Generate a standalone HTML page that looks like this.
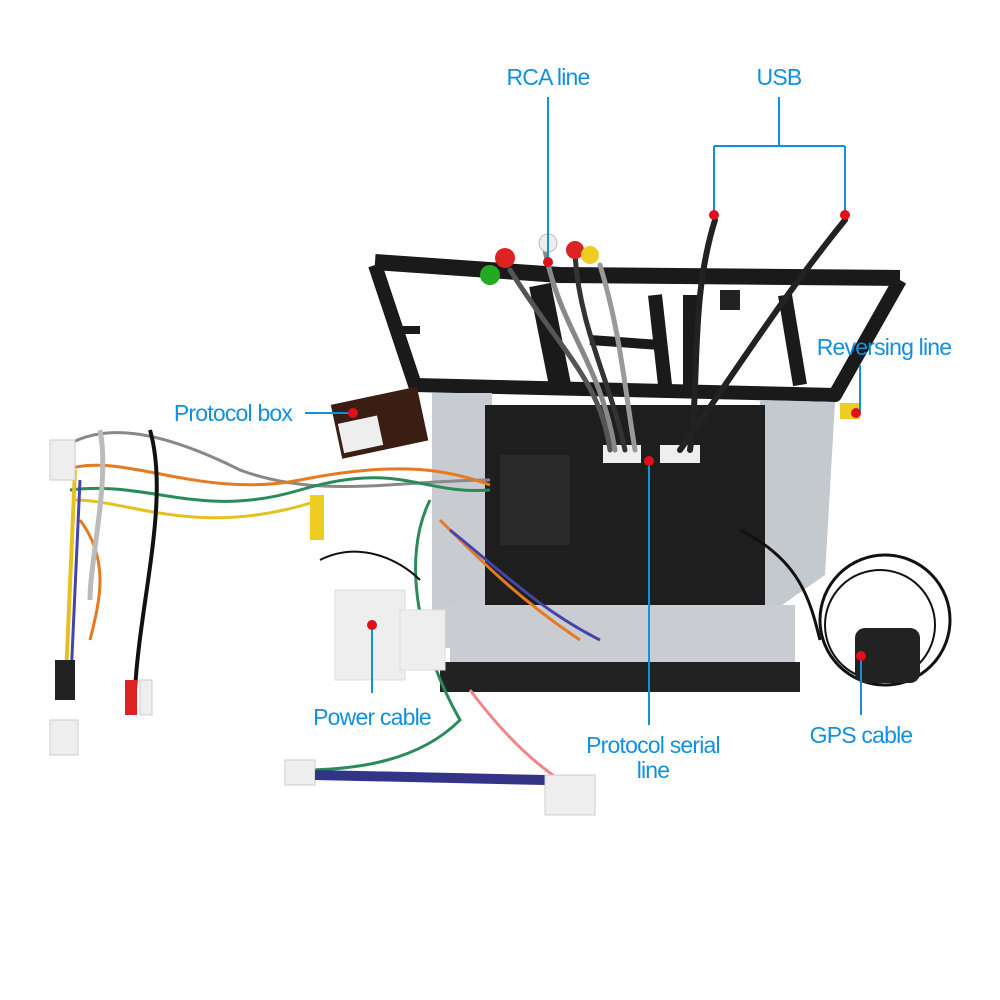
<!DOCTYPE html>
<html><head><meta charset="utf-8"><style>
html,body{margin:0;padding:0;background:#fff;width:1000px;height:1000px;overflow:hidden}
svg{display:block}
text{font-family:"Liberation Sans",sans-serif;fill:#1190e0;font-size:23px;letter-spacing:-0.8px}
</style></head><body>
<svg width="1000" height="1000" viewBox="0 0 1000 1000">
<rect width="1000" height="1000" fill="#fff"/>
<!-- frame (bars) -->
<g fill="none" stroke="#1a1a1a" stroke-linejoin="round">
<path d="M375,265 L415,385 L835,395 L900,280" stroke-width="14"/>
<path d="M375,262 L560,275 L900,278" stroke-width="16"/>
<path d="M540,285 L560,385" stroke-width="22"/>
<path d="M655,295 L665,385" stroke-width="14"/>
<path d="M690,295 L690,385" stroke-width="14"/>
<path d="M785,295 L800,385" stroke-width="14"/>
<path d="M395,330 L420,330" stroke-width="8"/>
<path d="M590,340 L660,345" stroke-width="10"/>
</g>
<!-- chassis -->
<rect x="432" y="393" width="60" height="255" fill="#c8ccd0"/>
<path d="M760,400 L835,402 L825,575 L775,610 L760,610 Z" fill="#c4c9ce"/>
<rect x="485" y="405" width="280" height="200" fill="#1e1e1e"/>
<rect x="500" y="455" width="70" height="90" fill="#2a2a2a"/>
<rect x="450" y="605" width="345" height="60" fill="#c9cdd1"/>
<rect x="440" y="662" width="360" height="30" fill="#222"/>
<!-- connectors -->
<rect x="603" y="445" width="38" height="18" fill="#eee"/>
<rect x="660" y="445" width="40" height="18" fill="#eee"/>
<!-- RCA wires -->
<g fill="none" stroke-width="5" stroke-linecap="round">
<path d="M545,250 C560,330 600,360 615,450" stroke="#888"/>
<path d="M575,255 C580,330 610,380 625,450" stroke="#333"/>
<path d="M600,265 C620,330 625,390 635,450" stroke="#999"/>
<path d="M510,270 C560,350 600,380 610,450" stroke="#555"/>
<path d="M715,220 C690,300 700,380 690,450" stroke="#222" stroke-width="6"/>
<path d="M845,220 C780,300 730,380 680,450" stroke="#222" stroke-width="6"/>
</g>
<circle cx="505" cy="258" r="10" fill="#d22"/>
<circle cx="490" cy="275" r="10" fill="#2a2"/>
<circle cx="548" cy="243" r="9" fill="#eee" stroke="#bbb"/>
<circle cx="575" cy="250" r="9" fill="#d22"/>
<circle cx="590" cy="255" r="9" fill="#ec2"/>
<rect x="720" y="290" width="20" height="20" fill="#222"/>
<!-- wiring left -->
<g fill="none" stroke-width="3">
<path d="M60,450 C100,420 160,430 240,470 C320,500 400,480 490,480" stroke="#888"/>
<path d="M65,470 C120,450 200,500 300,480 S450,470 490,485" stroke="#e67a20"/>
<path d="M70,490 C150,480 200,520 300,490 S420,495 490,490" stroke="#2a8a5a"/>
<path d="M75,500 C130,500 200,540 320,500" stroke="#e6c020"/>
<path d="M80,520 C110,560 100,600 90,640" stroke="#e67a20"/>
<path d="M75,470 L65,700" stroke="#e6c020" stroke-width="4"/>
<path d="M80,480 L70,700" stroke="#44a" stroke-width="3"/>
<path d="M150,430 C170,500 140,600 135,690" stroke="#111" stroke-width="4"/>
<path d="M100,430 C110,480 90,560 90,600" stroke="#bbb" stroke-width="5"/>
<path d="M430,500 C400,560 420,650 460,720 C420,760 360,770 300,770" stroke="#2a8a5a"/>
<path d="M440,520 C480,560 520,600 580,640" stroke="#e67a20"/>
<path d="M450,530 C500,570 540,610 600,640" stroke="#44a"/>
<path d="M470,690 C500,730 530,760 560,780" stroke="#e88"/>
<path d="M320,560 C360,540 400,560 420,580" stroke="#111" stroke-width="2"/>
<path d="M740,530 C800,560 810,600 820,640" stroke="#111" stroke-width="3"/>
</g>
<circle cx="885" cy="620" r="65" fill="none" stroke="#111" stroke-width="3"/>
<circle cx="880" cy="625" r="55" fill="none" stroke="#111" stroke-width="2"/>
<rect x="855" y="628" width="65" height="55" rx="10" fill="#222"/>
<!-- protocol box -->
<rect x="335" y="395" width="88" height="55" fill="#3a1e14" transform="rotate(-12 380 420)"/>
<rect x="338" y="415" width="40" height="30" fill="#eee" transform="rotate(-12 380 420)"/>
<!-- plugs -->
<rect x="50" y="440" width="25" height="40" fill="#eee" stroke="#ccc"/>
<rect x="50" y="720" width="28" height="35" fill="#eee" stroke="#ccc"/>
<rect x="55" y="660" width="20" height="40" fill="#222"/>
<rect x="125" y="680" width="12" height="35" fill="#d22"/>
<rect x="140" y="680" width="12" height="35" fill="#eee" stroke="#ccc"/>
<rect x="310" y="495" width="14" height="45" fill="#ec2"/>
<rect x="335" y="590" width="70" height="90" fill="#eee" stroke="#ddd"/>
<rect x="400" y="610" width="45" height="60" fill="#eee" stroke="#ddd"/>
<rect x="285" y="760" width="30" height="25" fill="#eee" stroke="#ccc"/>
<path d="M315,775 L545,780" stroke="#338" stroke-width="10"/>
<rect x="545" y="775" width="50" height="40" fill="#eee" stroke="#ccc"/>
<rect x="840" y="403" width="20" height="16" fill="#ec2"/>
<!-- labels -->
<g stroke="#1190e0" stroke-width="2" fill="none">
<path d="M548,97 V262"/>
<path d="M779,97 V146 M714,146 H845 M714,146 V215 M845,146 V215"/>
<path d="M860,365 V412"/>
<path d="M305,413 H353"/>
<path d="M372,625 V693"/>
<path d="M649,461 V725"/>
<path d="M861,656 V715"/>
</g>
<g fill="#e0101a">
<circle cx="548" cy="262" r="5"/><circle cx="714" cy="215" r="5"/><circle cx="845" cy="215" r="5"/>
<circle cx="856" cy="413" r="5"/><circle cx="353" cy="413" r="5"/><circle cx="372" cy="625" r="5"/>
<circle cx="649" cy="461" r="5"/><circle cx="861" cy="656" r="5"/>
</g>
<text x="548" y="85" text-anchor="middle">RCA line</text>
<text x="779" y="85" text-anchor="middle">USB</text>
<text x="884" y="355" text-anchor="middle">Reversing line</text>
<text x="233" y="421" text-anchor="middle">Protocol box</text>
<text x="372" y="725" text-anchor="middle">Power cable</text>
<text x="653" y="753" text-anchor="middle">Protocol serial</text>
<text x="653" y="778" text-anchor="middle">line</text>
<text x="861" y="743" text-anchor="middle">GPS cable</text>
</svg>
</body></html>
